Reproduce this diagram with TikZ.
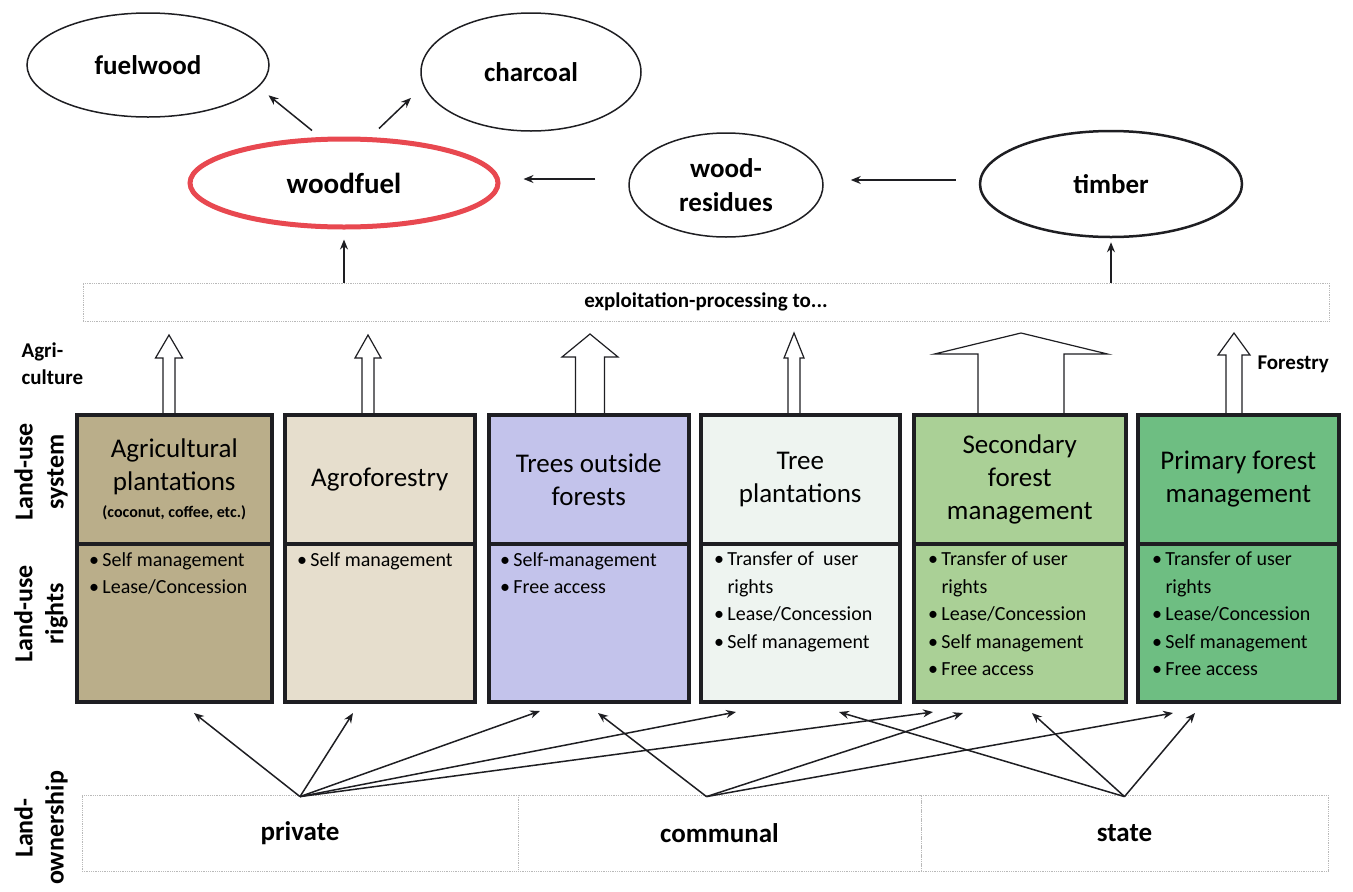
\documentclass[tikz,border=0pt]{standalone}
\usepackage{fontspec}
\setmainfont{Carlito}
\usetikzlibrary{arrows.meta,shapes.geometric,calc}
\definecolor{cAgri}{HTML}{BAAE8A}
\definecolor{cAgro}{HTML}{E6DECD}
\definecolor{cTOF}{HTML}{C3C3EB}
\definecolor{cTP}{HTML}{EEF4F0}
\definecolor{cSec}{HTML}{AAD096}
\definecolor{cPrim}{HTML}{6EBE82}
\definecolor{cRed}{HTML}{E84850}
\definecolor{cLine}{HTML}{1E1E22}
\begin{document}
\begin{tikzpicture}[x=1pt,y=-1pt,
  ell/.style={ellipse, draw=cLine, line width=1.5pt, inner sep=0pt, align=center,
    font=\bfseries\fontsize{27}{34}\selectfont},
  arr/.style={-{Stealth[length=10pt,width=8pt]}, line width=1.5pt, draw=cLine},
  sysbox/.style={draw=cLine, line width=3.5pt, anchor=north west, inner sep=0pt,
    align=center, font=\fontsize{27}{33}\selectfont},
  rightsbox/.style={draw=cLine, line width=3.5pt, anchor=north west, inner sep=0pt},
  bul/.style={anchor=north west, align=left, inner sep=0pt, font=\fontsize{20}{27.5}\selectfont},
  dotbox/.style={draw=gray!55, densely dotted, line width=0.8pt, inner sep=0pt},
  lbl/.style={font=\bfseries\fontsize{26}{31}\selectfont, align=center, rotate=90},
  blk/.style={draw=cLine, line width=1.2pt, fill=white, line join=miter},
  side/.style={anchor=west, align=left, font=\bfseries\fontsize{21}{27}\selectfont}
]
\useasboundingbox (0,0) rectangle (1353,892);

% ---------- top ellipses ----------
\node[ell, minimum width=242pt, minimum height=104pt] (fw) at (148,65) {fuelwood};
\node[ell, minimum width=220pt, minimum height=118pt] (ch) at (531,72) {charcoal};
\node[ell, draw=cRed, line width=5pt, minimum width=308pt, minimum height=88pt,
      font=\bfseries\fontsize{29}{34}\selectfont] (wf) at (344,183) {woodfuel};
\node[ell, minimum width=194pt, minimum height=104pt] (wr) at (726,185) {wood-\\residues};
\node[ell, line width=2.5pt, minimum width=262pt, minimum height=106pt] (tm) at (1111,184) {timber};

% ---------- exploitation box ----------
\node[dotbox, minimum width=1246pt, minimum height=38pt,
      font=\bfseries\fontsize{21}{24}\selectfont] (ex) at (706,302) {exploitation-processing to...};

% ---------- arrows between top nodes ----------
\draw[arr] ([shift={(-32,-6)}]wf.north) -- ([shift={(15,4)}]fw.-14);
\draw[arr] ([shift={(35,-8)}]wf.north) -- ([shift={(-17,4)}]ch.192);
\draw[arr, shorten <=33pt, shorten >=23pt] (wr.west |- 0,179) -- (wf.east |- 0,179);
\draw[arr, shorten <=23pt, shorten >=27pt] (tm.west |- 0,180) -- (wr.east |- 0,180);
\draw[arr, shorten >=10pt] (ex.north -| wf.south) -- (wf.south);
\draw[arr, shorten >=4pt] (ex.north -| tm.south) -- (tm.south);

% ---------- side labels ----------
\node[side] (agri) at (18,364) {Agri-\\culture};
\node[side] (forestry) at (1254,364) {Forestry};
\node[lbl] (lus) at (41,472) {Land-use\\system};
\node[lbl] (lur) at (41,614) {Land-use\\rights};
\node[lbl] (lo) at (41,828) {Land-\\ownership};

% ---------- block arrows ----------
\newcommand\blkarrow[5]{%
  \draw[blk] (#1-#2,413) -- (#1-#2,#5) -- (#1-#3,#5) -- (#1,#4) -- (#1+#3,#5) -- (#1+#2,#5) -- (#1+#2,413);}
\blkarrow{169}{6}{13.5}{335}{358}
\blkarrow{368}{6}{13}{335}{358}
\blkarrow{590}{14.5}{28}{334}{357}
\blkarrow{794}{6}{10}{333}{358}
\blkarrow{1021}{43}{86.5}{333}{354}
\blkarrow{1234}{8}{16}{333}{355}

% ---------- land-use system boxes ----------
\node[sysbox, fill=cAgri, minimum width=195pt, minimum height=129pt] (s1) at (75,413)
  {Agricultural\\plantations\\[-6pt]{\bfseries\fontsize{16}{18}\selectfont (coconut, coffee, etc.)}};
\node[sysbox, fill=cAgro, minimum width=190pt, minimum height=129pt] (s2) at (283,413) {Agroforestry};
\node[sysbox, fill=cTOF, minimum width=200pt, minimum height=129pt] (s3) at (487,413) {Trees outside\\forests};
\node[sysbox, fill=cTP, minimum width=199pt, minimum height=129pt] (s4) at (699,413) {Tree\\plantations};
\node[sysbox, fill=cSec, minimum width=212pt, minimum height=129pt] (s5) at (912,413) {Secondary\\forest\\management};
\node[sysbox, fill=cPrim, minimum width=201pt, minimum height=129pt] (s6) at (1136,413) {Primary forest\\management};

% ---------- land-use rights boxes ----------
\node[rightsbox, fill=cAgri, minimum width=195pt, minimum height=158pt] (r1) at (75,542) {};
\node[rightsbox, fill=cAgro, minimum width=190pt, minimum height=158pt] (r2) at (283,542) {};
\node[rightsbox, fill=cTOF, minimum width=200pt, minimum height=158pt] (r3) at (487,542) {};
\node[rightsbox, fill=cTP, minimum width=199pt, minimum height=158pt] (r4) at (699,542) {};
\node[rightsbox, fill=cSec, minimum width=212pt, minimum height=158pt] (r5) at (912,542) {};
\node[rightsbox, fill=cPrim, minimum width=201pt, minimum height=158pt] (r6) at (1136,542) {};

\node[bul] (b1) at (89,552) {•\,Self management\\•\,Lease/Concession};
\node[bul] (b2) at (297,552) {•\,Self management};
\node[bul] (b3) at (500,552) {•\,Self-management\\•\,Free access};
\node[bul] (b4) at (714,552) {•\,Transfer of \ user\\\phantom{•\,}rights\\•\,Lease/Concession\\•\,Self management};
\node[bul] (b5) at (928,552) {•\,Transfer of user\\\phantom{•\,}rights\\•\,Lease/Concession\\•\,Self management\\•\,Free access};
\node[bul] (b6) at (1152,552) {•\,Transfer of user\\\phantom{•\,}rights\\•\,Lease/Concession\\•\,Self management\\•\,Free access};

% ---------- land ownership ----------
\node[dotbox, minimum width=436pt, minimum height=76pt,
      font=\bfseries\fontsize{27}{32}\selectfont] (pr) at (300,833) {private};
\node[dotbox, minimum width=403pt, minimum height=76pt,
      font=\bfseries\fontsize{27}{32}\selectfont] (co) at (719.5,833) {communal};
\node[dotbox, minimum width=407pt, minimum height=76pt,
      font=\bfseries\fontsize{27}{32}\selectfont] (st) at (1124.5,833) {state};

% arrow tips below the boxes
\coordinate (p1) at (194,713);
\coordinate (p2) at (353,713);
\coordinate (p3) at (540,711);
\coordinate (p4) at (736,712);
\coordinate (p5) at (933,712);
\coordinate (c1) at (598,713);
\coordinate (c2) at (963,713);
\coordinate (c3) at (1173,713);
\coordinate (q1) at (839,712);
\coordinate (q2) at (1032,713);
\coordinate (q3) at (1195,713);

\coordinate (po) at ([yshift=-2pt]pr.north);
\coordinate (cmo) at ([xshift=-13pt,yshift=-2pt]co.north);
\coordinate (so) at ([yshift=-2pt]st.north);
\foreach \t in {p1,p2,p3,p4,p5} \draw[arr] (po) -- (\t);
\foreach \t in {c1,c2,c3} \draw[arr] (cmo) -- (\t);
\foreach \t in {q1,q2,q3} \draw[arr] (so) -- (\t);

\end{tikzpicture}
\end{document}
